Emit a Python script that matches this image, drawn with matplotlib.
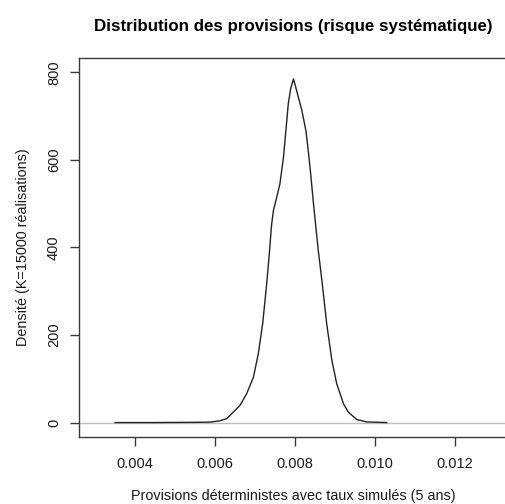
import matplotlib
matplotlib.use("Agg")
import matplotlib.pyplot as plt
import numpy as np

# density curve (x = provision, y = density)
provisions = [0.00351, 0.00438, 0.00551, 0.00588, 0.00613, 0.00630, 0.00651,
              0.00663, 0.00680, 0.00697, 0.00709, 0.00720, 0.00730, 0.00737,
              0.00742, 0.00747, 0.00753, 0.00763, 0.00772, 0.00778, 0.00784,
              0.00790, 0.00797, 0.00805, 0.00818, 0.00828, 0.00834, 0.00840,
              0.00847, 0.00853, 0.00859, 0.00868, 0.00880, 0.00893, 0.00905,
              0.00922, 0.00934, 0.00955, 0.00980, 0.01030]
densite = [0, 0, 0.5, 1, 4, 9, 28,
           39, 66, 104, 157, 226, 317, 390,
           450, 485, 507, 545, 606, 667, 728,
           763, 785, 758, 713, 667, 621, 568,
           500, 446, 393, 325, 226, 142, 89,
           43, 24, 7, 1.4, 0]

x_ticks = [0.004, 0.006, 0.008, 0.010, 0.012]
x_ticklabels = ["0.004", "0.006", "0.008", "0.010", "0.012"]
y_ticks = [0, 200, 400, 600, 800]

plt.rcParams["font.family"] = ["Liberation Sans", "DejaVu Sans"]

fig = plt.figure(figsize=(5.05, 5.04), dpi=100)
ax = fig.add_axes([79 / 505, 67 / 504, 428 / 505, 379.5 / 504])

ax.axhline(0, color="#bdbdbd", lw=1.0, zorder=1)
ax.plot(provisions, densite, color="#222222", lw=1.0, zorder=2)

ax.set_xlim(0.002608, 0.013308)
ax.set_ylim(-33, 834)

ax.set_xticks(x_ticks)
ax.set_xticklabels(x_ticklabels)
ax.set_yticks(y_ticks)
ax.set_yticklabels([str(v) for v in y_ticks], rotation=90, va="center")

for side in ["left", "bottom", "top", "right"]:
    ax.spines[side].set_color("#3a3a3a")
    ax.spines[side].set_linewidth(1.0)

ax.tick_params(axis="both", direction="out", length=6.5, width=1.0,
               color="#3a3a3a", labelsize=10.5, labelcolor="#1a1a1a")
ax.tick_params(axis="x", pad=8)
ax.tick_params(axis="y", pad=6.5)

ax.set_title("Distribution des provisions (risque systématique)",
             fontsize=12.2, fontweight="bold", pad=19)
ax.set_xlabel("Provisions déterministes avec taux simulés (5 ans)",
              fontsize=10.4, labelpad=13, color="#1a1a1a")
ax.set_ylabel("Densité (K=15000 réalisations)", fontsize=10.4,
              labelpad=12, color="#1a1a1a")

fig.savefig("out.png", dpi=100)
